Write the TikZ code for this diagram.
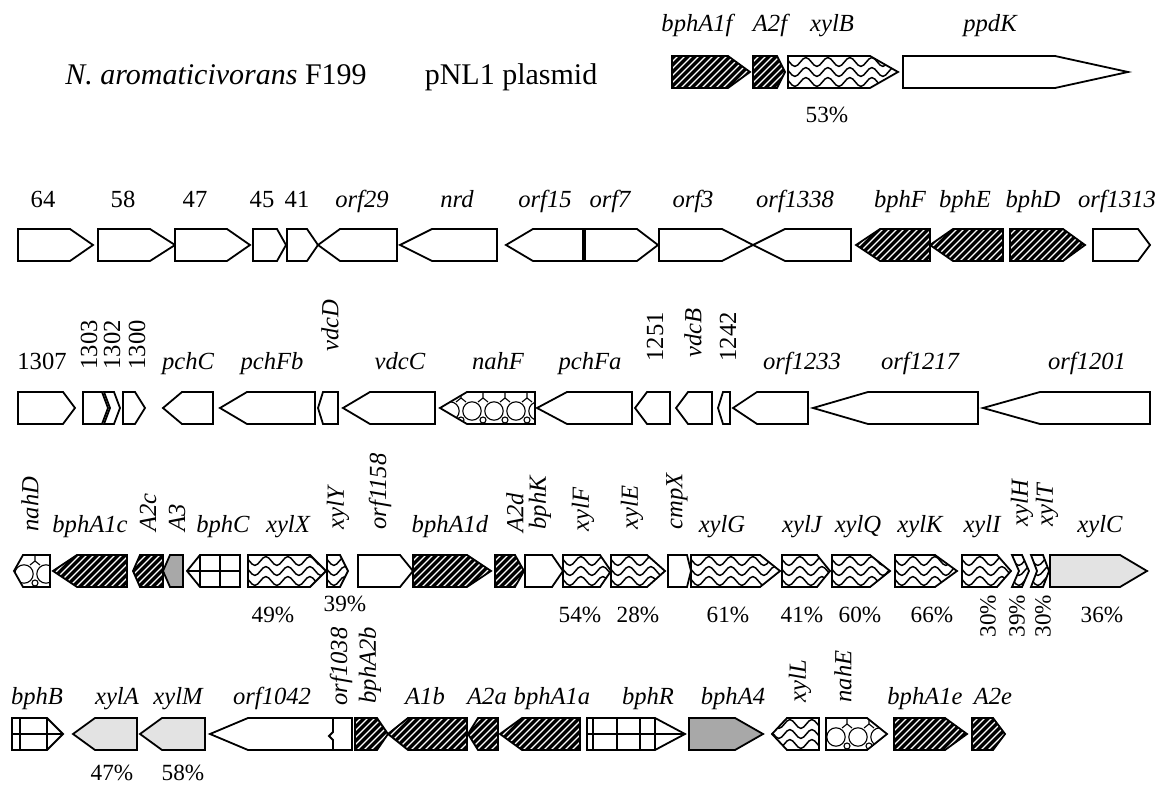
\documentclass[tikz,border=0pt]{standalone}
\usepackage{fontspec}
\setmainfont{Liberation Serif}
\usetikzlibrary{decorations.pathmorphing}
\definecolor{lgray}{gray}{0.89}
\definecolor{mgray}{gray}{0.66}
\newcommand\gfillw[3]{\fill[white] (#1-3,#3-20) rectangle (#2+3,#3+20);}
\newcommand\gfillL[3]{\fill[lgray] (#1-3,#3-20) rectangle (#2+3,#3+20);}
\newcommand\gfillG[3]{\fill[mgray] (#1-3,#3-20) rectangle (#2+3,#3+20);}
\newcommand\gfillk[3]{\fill[black] (#1-3,#3-20) rectangle (#2+3,#3+20);
  \foreach \k in {-42,-35,...,120}{\draw[white,line width=0.7pt] (#1+\k,#3+18) -- ++(36,-36);}}
\newcommand\gfillv[3]{\fill[white] (#1-3,#3-20) rectangle (#2+3,#3+20);
  \foreach \dy in {-10,0,10}{\draw[line width=0.75pt,decorate,decoration={snake,segment length=11pt,amplitude=2.2pt}] (#1-11,#3+\dy) -- (#2+11,#3+\dy);}}
\newcommand\gfillg[3]{\fill[white] (#1-3,#3-20) rectangle (#2+3,#3+20);
  \draw[line width=0.7pt] (#1-3,#3) -- (#2+3,#3);}
\newcommand\gfillh[3]{\fill[white] (#1-3,#3-20) rectangle (#2+3,#3+20);
  \foreach \k in {0,...,5}{
    \draw[line width=0.55pt] (#1+10+\k*22,#3+3) circle[radius=4.6pt];
    \draw[line width=0.55pt] (#1+21+\k*22,#3-17) -- (#1+21+\k*22,#3-10) -- (#1+16+\k*22,#3-6)
       (#1+21+\k*22,#3-10) -- (#1+26+\k*22,#3-6);
    \draw[line width=0.55pt] (#1+21+\k*22,#3+12) circle[radius=1.5pt];}}
% right-pointing gene: kind, left, shoulder, tip, centre y
\newcommand\RR[5]{%
  \begin{scope}
    \clip (#2,#5-16) -- (#3,#5-16) -- (#4,#5) -- (#3,#5+16) -- (#2,#5+16) -- cycle;
    \csname gfill#1\endcsname{#2}{#4}{#5}
  \end{scope}
  \draw[gene] (#2,#5-16) -- (#3,#5-16) -- (#4,#5) -- (#3,#5+16) -- (#2,#5+16) -- cycle;}
% left-pointing gene: kind, tip, shoulder, right end, centre y
\newcommand\LL[5]{%
  \begin{scope}
    \clip (#2,#5) -- (#3,#5-16) -- (#4,#5-16) -- (#4,#5+16) -- (#3,#5+16) -- cycle;
    \csname gfill#1\endcsname{#2}{#4}{#5}
  \end{scope}
  \draw[gene] (#2,#5) -- (#3,#5-16) -- (#4,#5-16) -- (#4,#5+16) -- (#3,#5+16) -- cycle;}
% notched right-pointing chevron
\newcommand\CR[5]{%
  \begin{scope}
    \clip (#2,#5-16) -- (#3,#5-16) -- (#4,#5) -- (#3,#5+16) -- (#2,#5+16) -- (#2+#4-#3,#5) -- cycle;
    \csname gfill#1\endcsname{#2}{#4}{#5}
  \end{scope}
  \draw[gene] (#2,#5-16) -- (#3,#5-16) -- (#4,#5) -- (#3,#5+16) -- (#2,#5+16) -- (#2+#4-#3,#5) -- cycle;}
\tikzset{
  gene/.style={draw=black,line width=0.9pt,line join=miter},
  gline/.style={line width=0.7pt},
  lab/.style={font=\fontsize{12.3}{14}\selectfont\itshape,inner sep=0pt,anchor=base},
  num/.style={font=\fontsize{12.3}{14}\selectfont,inner sep=0pt,anchor=base},
  rlab/.style={lab,rotate=90,anchor=west},
  rnum/.style={num,rotate=90,anchor=west},
  pct/.style={font=\fontsize{11.6}{13}\selectfont,inner sep=0pt,anchor=base},
  rpct/.style={pct,rotate=90,anchor=west},
  ttl/.style={font=\fontsize{15}{18}\selectfont,inner sep=0pt,anchor=base}
}
\begin{document}
\begin{tikzpicture}[x=0.5pt,y=-0.5pt]
\useasboundingbox[fill=white] (0,0) rectangle (1168,785);
% ---------- title ----------
\node[ttl] (t1) at (216,85) {\textit{N. aromaticivorans} F199};
\node[ttl] (t2) at (511,85) {pNL1 plasmid};
% ---------- row 1 ----------
\RR{k}{672}{728}{750}{72}
\RR{k}{753}{777}{785}{72}
\RR{v}{788}{870}{898}{72}
\RR{w}{903}{1055}{1128}{72}
\node[lab] (l1a) at (697,32) {bphA1f};
\node[lab] (l1b) at (770,32) {A2f};
\node[lab] (l1c) at (832,32) {xylB};
\node[lab] (l1d) at (990,32) {ppdK};
\node[pct] (p1a) at (827,123) {53\%};
% ---------- row 2 ----------
\RR{w}{18}{70}{93}{245}
\RR{w}{98}{150}{175}{245}
\RR{w}{175}{227}{250}{245}
\RR{w}{253}{277}{286}{245}
\RR{w}{287}{307}{318}{245}
\LL{w}{318}{340}{397}{245}
\LL{w}{400}{432}{497}{245}
\LL{w}{506}{533}{583}{245}
\RR{w}{585}{637}{658}{245}
\RR{w}{659}{722}{753}{245}
\LL{w}{753}{785}{851}{245}
\LL{k}{856}{880}{930}{245}
\LL{k}{930}{953}{1003}{245}
\RR{k}{1010}{1063}{1085}{245}
\RR{w}{1093}{1138}{1150}{245}
\node[num] (l2a) at (43,208) {64};
\node[num] (l2b) at (123,208) {58};
\node[num] (l2c) at (195,208) {47};
\node[num] (l2d) at (262,208) {45};
\node[num] (l2e) at (297,208) {41};
\node[lab] (l2f) at (362,208) {orf29};
\node[lab] (l2g) at (457,208) {nrd};
\node[lab] (l2h) at (545,208) {orf15};
\node[lab] (l2i) at (610,208) {orf7};
\node[lab] (l2j) at (693,208) {orf3};
\node[lab] (l2k) at (795,208) {orf1338};
\node[lab] (l2l) at (900,208) {bphF};
\node[lab] (l2m) at (965,208) {bphE};
\node[lab] (l2n) at (1033,208) {bphD};
\node[lab] (l2o) at (1117,208) {orf1313};
% ---------- row 3 ----------
\RR{w}{18}{63}{75}{408}
\RR{w}{83}{102}{108}{408}
\CR{w}{104}{114}{120}{408}
\RR{w}{123}{135}{145}{408}
\LL{w}{163}{182}{213}{408}
\LL{w}{220}{247}{315}{408}
\LL{w}{318}{323}{338}{408}
\LL{w}{343}{370}{435}{408}
\LL{h}{440}{467}{535}{408}
\LL{w}{537}{567}{632}{408}
\LL{w}{635}{647}{670}{408}
\LL{w}{676}{688}{712}{408}
\LL{w}{718}{723}{730}{408}
\LL{w}{733}{757}{808}{408}
\LL{w}{813}{868}{978}{408}
\LL{w}{983}{1040}{1150}{408}
\node[num] (l3a) at (42,370) {1307};
\node[rnum] (l3b) at (89,370) {1303};
\node[rnum] (l3c) at (112,370) {1302};
\node[rnum] (l3d) at (137,370) {1300};
\node[lab] (l3e) at (188,370) {pchC};
\node[lab] (l3f) at (272,370) {pchFb};
\node[rlab] (l3g) at (330,352) {vdcD};
\node[lab] (l3h) at (400,370) {vdcC};
\node[lab] (l3i) at (498,370) {nahF};
\node[lab] (l3j) at (590,370) {pchFa};
\node[rnum] (l3k) at (655,362) {1251};
\node[rlab] (l3l) at (693,358) {vdcB};
\node[rnum] (l3m) at (728,362) {1242};
\node[lab] (l3n) at (802,370) {orf1233};
\node[lab] (l3o) at (920,370) {orf1217};
\node[lab] (l3p) at (1087,370) {orf1201};
% ---------- row 4 ----------
\LL{h}{14}{23}{50}{571}
\LL{k}{53}{77}{127}{571}
\LL{k}{133}{140}{163}{571}
\LL{G}{163}{170}{183}{571}
\LL{g}{187}{200}{240}{571}
\draw[gline] (200,555) -- (200,587) (220,555) -- (220,587);
\RR{v}{248}{310}{326}{571}
\RR{v}{327}{340}{348}{571}
\RR{w}{358}{400}{413}{571}
\RR{k}{413}{467}{491}{571}
\RR{k}{495}{515}{524}{571}
\RR{w}{525}{552}{563}{571}
\RR{v}{563}{600}{611}{571}
\RR{v}{611}{647}{665}{571}
\RR{w}{668}{687}{691}{571}
\RR{v}{691}{760}{780}{571}
\RR{v}{782}{817}{830}{571}
\RR{v}{832}{870}{890}{571}
\RR{v}{895}{935}{957}{571}
\RR{v}{962}{997}{1011}{571}
\CR{v}{1012}{1022}{1029}{571}
\CR{v}{1031}{1043}{1049}{571}
\RR{L}{1050}{1120}{1147}{571}
\node[rlab] (l4a) at (30,532) {nahD};
\node[lab] (l4b) at (90,533) {bphA1c};
\node[rlab] (l4c) at (148,532) {A2c};
\node[rlab] (l4d) at (177,532) {A3};
\node[lab] (l4e) at (223,533) {bphC};
\node[lab] (l4f) at (288,533) {xylX};
\node[rlab] (l4g) at (338,530) {xylY};
\node[rlab] (l4h) at (380,530) {orf1158};
\node[lab] (l4i) at (450,533) {bphA1d};
\node[rlab] (l4j) at (515,533) {A2d};
\node[rlab] (l4k) at (540,530) {bphK};
\node[rlab] (l4l) at (583,532) {xylF};
\node[rlab] (l4m) at (632,530) {xylE};
\node[rlab] (l4n) at (677,530) {cmpX};
\node[lab] (l4o) at (722,533) {xylG};
\node[lab] (l4p) at (802,533) {xylJ};
\node[lab] (l4q) at (858,533) {xylQ};
\node[lab] (l4r) at (920,533) {xylK};
\node[lab] (l4s) at (982,533) {xylI};
\node[rlab] (l4t) at (1022,527) {xylH};
\node[rlab] (l4u) at (1047,527) {xylT};
\node[lab] (l4v) at (1100,533) {xylC};
\node[pct] (p4a) at (273,623) {49\%};
\node[pct] (p4b) at (345,612) {39\%};
\node[pct] (p4c) at (580,623) {54\%};
\node[pct] (p4d) at (638,623) {28\%};
\node[pct] (p4e) at (728,623) {61\%};
\node[pct] (p4f) at (802,623) {41\%};
\node[pct] (p4g) at (860,623) {60\%};
\node[pct] (p4h) at (932,623) {66\%};
\node[rpct] (p4i) at (988,638) {30\%};
\node[rpct] (p4j) at (1017,638) {39\%};
\node[rpct] (p4k) at (1043,638) {30\%};
\node[pct] (p4l) at (1102,623) {36\%};
% ---------- row 5 ----------
\RR{g}{12}{47}{63}{734}
\draw[gline] (20,718) -- (20,750) (47,718) -- (47,750);
\LL{L}{73}{95}{137}{734}
\LL{L}{140}{162}{205}{734}
\LL{w}{210}{248}{333}{734}
\draw[gene,fill=white] (333,718) -- (352,718) -- (352,750) -- (333,750) -- (333,740) -- (329,736) -- (333,732) -- cycle;
\RR{k}{355}{377}{388}{734}
\LL{k}{388}{408}{467}{734}
\LL{k}{468}{478}{498}{734}
\LL{k}{500}{522}{580}{734}
\RR{g}{587}{655}{685}{734}
\draw[gline] (593,718) -- (593,750) (617,718) -- (617,750) (640,718) -- (640,750) (655,718) -- (655,750);
\RR{G}{689}{735}{763}{734}
\LL{v}{772}{787}{819}{734}
\RR{h}{826}{867}{887}{734}
\RR{k}{894}{945}{967}{734}
\RR{k}{972}{993}{1005}{734}
\node[lab] (l5a) at (37,705) {bphB};
\node[lab] (l5b) at (117,705) {xylA};
\node[lab] (l5c) at (178,705) {xylM};
\node[lab] (l5d) at (272,705) {orf1042};
\node[rlab] (l5e) at (341,706) {orf1038};
\node[rlab] (l5f) at (370,704) {bphA2b};
\node[lab] (l5g) at (425,705) {A1b};
\node[lab] (l5h) at (487,705) {A2a};
\node[lab] (l5i) at (552,705) {bphA1a};
\node[lab] (l5j) at (648,705) {bphR};
\node[lab] (l5k) at (733,705) {bphA4};
\node[rlab] (l5l) at (800,703) {xylL};
\node[rlab] (l5m) at (843,703) {nahE};
\node[lab] (l5n) at (925,705) {bphA1e};
\node[lab] (l5o) at (993,705) {A2e};
\node[pct] (p5a) at (112,781) {47\%};
\node[pct] (p5b) at (183,781) {58\%};
\end{tikzpicture}
\end{document}
